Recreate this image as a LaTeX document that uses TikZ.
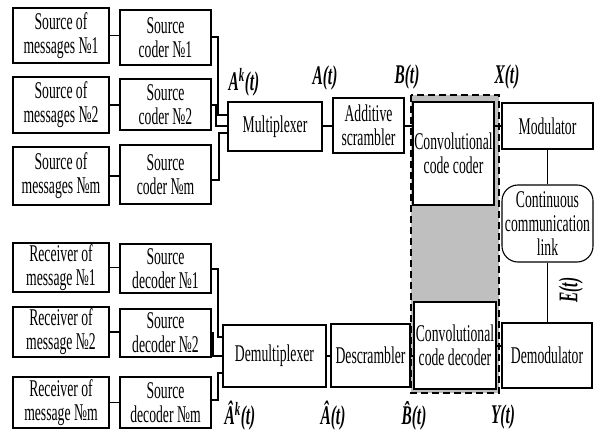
\documentclass[tikz,border=0pt]{standalone}
\usepackage{fontspec}
\setmainfont{Liberation Serif}[FakeStretch=0.57]
\usetikzlibrary{calc}
\tikzset{
  blk/.style={draw=black, line width=1.1pt, fill=white, align=center, inner sep=0pt,
    font=\fontsize{24}{24}\selectfont},
  lnk/.style={draw=black, line width=1.1pt},
  lab/.style={font=\fontsize{27}{27}\selectfont\bfseries\itshape, inner sep=0pt},
}
\begin{document}
\begin{tikzpicture}[x=1pt,y=-1pt]
\useasboundingbox (0,0) rectangle (595,433);
% gray dashed region
\draw[fill=gray!50, dash pattern=on 7pt off 4pt, line width=1.2pt] (411,95) rectangle (499,393);
% top row
\node[blk, minimum width=96pt, minimum height=55pt] (sm1) at (61,35.5) {Source of\\messages №1};
\node[blk, minimum width=91pt, minimum height=55pt] (sc1) at (165.5,37.5) {Source\\coder №1};
\node[blk, minimum width=96pt, minimum height=56pt] (sm2) at (61,105) {Source of\\messages №2};
\node[blk, minimum width=91pt, minimum height=51pt] (sc2) at (165.5,104.5) {Source\\coder №2};
\node[blk, minimum width=96pt, minimum height=58pt] (sm3) at (61,176) {Source of\\messages №m};
\node[blk, minimum width=91pt, minimum height=59pt] (sc3) at (165.5,174.5) {Source\\coder №m};
\node[blk, minimum width=94pt, minimum height=49pt] (mux) at (275,126.5) {Multiplexer};
\node[blk, minimum width=71pt, minimum height=55pt] (scr) at (368.5,125.5) {Additive\\scrambler};
\node[blk, minimum width=81pt, minimum height=103pt] (cc) at (453.5,153.5) {Convolutional\\code coder};
\node[blk, minimum width=91pt, minimum height=46pt] (mod) at (547.5,126) {Modulator};
\node[blk, rounded corners=16pt, minimum width=91pt, minimum height=77pt] (link) at (547.5,223.5) {Continuous\\communication\\link};
% bottom row
\node[blk, minimum width=90pt, minimum height=65pt] (dem) at (547,355.5) {Demodulator};
\node[blk, minimum width=82pt, minimum height=87pt] (cd) at (455,345.5) {Convolutional\\code decoder};
\node[blk, minimum width=79pt, minimum height=63pt] (dscr) at (370.5,355.5) {Descrambler};
\node[blk, minimum width=103pt, minimum height=62pt] (dmux) at (274.5,356) {Demultiplexer};
\node[blk, minimum width=96pt, minimum height=49pt] (rm1) at (61,267.5) {Receiver of\\message №1};
\node[blk, minimum width=91pt, minimum height=49pt] (sd1) at (165.5,268.5) {Source\\decoder №1};
\node[blk, minimum width=96pt, minimum height=50pt] (rm2) at (61,332) {Receiver of\\message №2};
\node[blk, minimum width=91pt, minimum height=48pt] (sd2) at (165.5,333) {Source\\decoder №2};
\node[blk, minimum width=96pt, minimum height=51pt] (rm3) at (61,402.5) {Receiver of\\message №m};
\node[blk, minimum width=91pt, minimum height=51pt] (sd3) at (165.5,402.5) {Source\\decoder №m};
% connectors top
\foreach \i in {1,2,3} {\draw[lnk] (sm\i.east) -- (sm\i.east -| sc\i.west);}
\draw[lnk] (sc1.east |- 0,37) -- (218,37) -- (218,115) -- (mux.west |- 0,115);
\draw[lnk] (sc2.east |- 0,105) -- (216,105) -- (216,126) -- (mux.west |- 0,126);
\draw[lnk] (sc3.east |- 0,180) -- (219,180) -- (219,133) -- (mux.west |- 0,133);
\draw[lnk] (mux.east |- 0,126) -- (scr.west |- 0,126);
\draw[lnk] (scr.east |- 0,126) -- (cc.west |- 0,126);
\draw[lnk] (cc.east |- 0,126) -- (mod.west |- 0,126);
\draw[lnk] (mod.south) -- (link.north);
\draw[lnk] (link.south) -- (link.south |- dem.north);
% connectors bottom
\draw[lnk] (dem.west |- 0,346) -- (cd.east |- 0,346);
\draw[lnk] (cd.west |- 0,356) -- (dscr.east |- 0,356);
\draw[lnk] (dscr.west |- 0,356) -- (dmux.east |- 0,356);
\foreach \i in {1,2,3} {\draw[lnk] (rm\i.east) -- (rm\i.east -| sd\i.west);}
\draw[lnk] (sd1.east |- 0,269) -- (218,269) -- (218,337) -- (dmux.west |- 0,337);
\draw[lnk] (sd2.east |- 0,333) -- (213,333) -- (213,356) -- (dmux.west |- 0,356);
\draw[lnk] (sd3.east |- 0,400) -- (218,400) -- (218,373) -- (dmux.west |- 0,373);
% labels
\node[lab] (lAk) at (244,82) {A\textsuperscript{k}(t)};
\node[lab] (lA) at (325,78) {A(t)};
\node[lab] (lB) at (407,77) {B(t)};
\node[lab] (lX) at (507,77) {X(t)};
\node[lab, rotate=90] (lE) at (571,290) {E(t)};
\node[lab] (lAhk) at (240,416) {\^{A}\textsuperscript{k}(t)};
\node[lab] (lAh) at (333,416) {\^{A}(t)};
\node[lab] (lBh) at (414,416) {\^{B}(t)};
\node[lab] (lY) at (503,417) {Y(t)};
\end{tikzpicture}
\end{document}
